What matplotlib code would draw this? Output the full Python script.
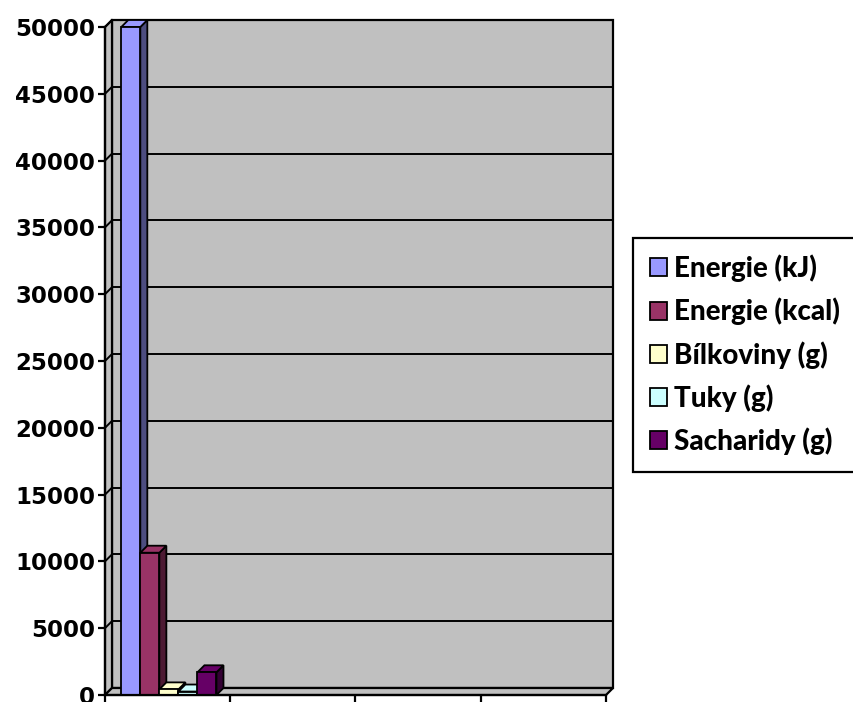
import matplotlib.pyplot as plt
from matplotlib.patches import Polygon, Patch
import numpy as np

# nutrition values per category (only the first one is filled)
series = ['Energie (kJ)', 'Energie (kcal)', 'Bílkoviny (g)', 'Tuky (g)', 'Sacharidy (g)']
colors = ['#9999FF', '#993366', '#FFFFCC', '#CCFFFF', '#660066']
energie_kj = [50000, 0, 0, 0]
energie_kcal = [10650, 0, 0, 0]
bilkoviny = [420, 0, 0, 0]
tuky = [260, 0, 0, 0]
sacharidy = [1700, 0, 0, 0]
yticks = list(range(0, 50001, 5000))

values = [energie_kj, energie_kcal, bilkoviny, tuky, sacharidy]
n_cat = len(energie_kj)
ymax = 50000

W, H = 854, 702
fig = plt.figure(figsize=(W / 100, H / 100), dpi=100)
ax_l, ax_b, ax_w, ax_h = 105, 7, 501, 668
ax = fig.add_axes([ax_l / W, ax_b / H, ax_w / W, ax_h / H])
ax.set_xlim(0, n_cat)
ax.set_ylim(0, ymax)

# 3d depth of walls and bars, 7 px back and up
depth_px = 7
ddx = depth_px * n_cat / ax_w
ddy = depth_px * ymax / ax_h

wall = '#C0C0C0'
lw = 1.6
back = Polygon([(ddx, ddy), (n_cat + ddx, ddy), (n_cat + ddx, ymax + ddy), (ddx, ymax + ddy)],
               closed=True, fc=wall, ec='black', lw=lw, clip_on=False, zorder=1)
left = Polygon([(0, 0), (ddx, ddy), (ddx, ymax + ddy), (0, ymax)],
               closed=True, fc=wall, ec='black', lw=lw, clip_on=False, zorder=1)
floor = Polygon([(0, 0), (n_cat, 0), (n_cat + ddx, ddy), (ddx, ddy)],
                closed=True, fc=wall, ec='black', lw=lw, clip_on=False, zorder=1)
for p in (back, left, floor):
    ax.add_patch(p)

# gridlines on the back wall and the left wall
for v in yticks[1:]:
    ax.plot([ddx, n_cat + ddx], [v + ddy, v + ddy], color='black', lw=1.4, zorder=2, clip_on=False)
    ax.plot([0, ddx], [v, v + ddy], color='black', lw=1.4, zorder=2, clip_on=False)


def shade(c, f=0.5):
    rgb = np.array(plt.matplotlib.colors.to_rgb(c))
    return tuple(rgb * f)


w = 0.152
start = 0.13
z = 3
for c in range(n_cat):
    for i, vals in enumerate(values):
        v = vals[c]
        if v <= 0:
            continue
        x0 = c + start + i * w
        col = colors[i]
        side = Polygon([(x0 + w, 0), (x0 + w + ddx, ddy), (x0 + w + ddx, v + ddy), (x0 + w, v)],
                       closed=True, fc=shade(col), ec='black', lw=1.3, clip_on=False, zorder=z)
        top = Polygon([(x0, v), (x0 + w, v), (x0 + w + ddx, v + ddy), (x0 + ddx, v + ddy)],
                      closed=True, fc=col, ec='black', lw=1.3, clip_on=False, zorder=z)
        ax.add_patch(side)
        ax.add_patch(top)
        ax.bar(x0, v, width=w, align='edge', color=col, edgecolor='black', lw=1.3,
               zorder=z + 0.5, clip_on=False)
        z += 1

ax.set_facecolor('none')
ax.set_yticks(yticks)
ax.set_yticklabels([str(t) for t in yticks], fontsize=16.5, fontweight='bold', family='DejaVu Sans')
ax.set_xticks(range(n_cat + 1))
ax.set_xticklabels([])
ax.tick_params(axis='both', direction='out', length=5, width=1.6, color='black', pad=2)
for s in ('top', 'right'):
    ax.spines[s].set_visible(False)
for s in ('left', 'bottom'):
    ax.spines[s].set_linewidth(lw)
    ax.spines[s].set_zorder(50)

handles = [Patch(fc=c, ec='black', lw=1.3) for c in colors]
leg = fig.legend(handles, series, loc='upper left', bbox_to_anchor=(633 / W, 1 - 238 / H),
                 frameon=True, fancybox=False, edgecolor='black', framealpha=1,
                 prop={'family': 'Lato', 'weight': 'black', 'size': 20},
                 handlelength=0.62, handleheight=0.62, handletextpad=0.25,
                 labelspacing=0.56, borderpad=0.6, borderaxespad=0)
leg.get_frame().set_linewidth(lw)

fig.savefig('out.png', dpi=100)
